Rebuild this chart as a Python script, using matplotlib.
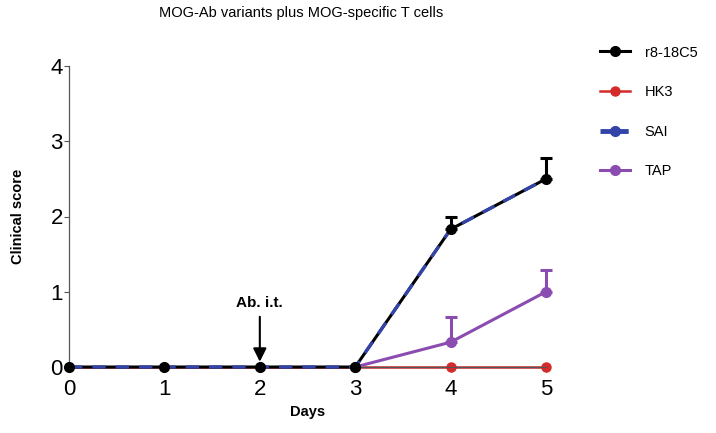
import numpy as np
import matplotlib
matplotlib.use("Agg")
import matplotlib.pyplot as plt
from matplotlib.lines import Line2D

plt.rcParams["font.family"] = ["Liberation Sans", "DejaVu Sans"]

days = [0, 1, 2, 3, 4, 5]
r8_mean = [0, 0, 0, 0, 1.83, 2.5]
r8_err = [0, 0, 0, 0, 0.17, 0.28]
hk3_mean = [0, 0, 0, 0, 0, 0]
sai_mean = [0, 0, 0, 0, 1.83, 2.5]
tap_mean = [0, 0, 0, 0, 0.33, 1.0]
tap_err = [0, 0, 0, 0, 0.33, 0.29]
series_names = ["r8-18C5", "HK3", "SAI", "TAP"]
yticks = [0, 1, 2, 3, 4]

BLACK, RED, BLUE, PURPLE = "#000000", "#d42a2a", "#3344a8", "#8a4cb0"

fig = plt.figure(figsize=(7.16, 4.33), dpi=100)
ax = fig.add_axes([0.0964, 0.1524, 0.6662, 0.6952])


def up_errorbar(x, y, err, color, z):
    # GraphPad style: only the upper half of the SEM bar
    eb = ax.errorbar(x, y, yerr=[[0] * len(err), err], fmt="none", ecolor=color,
                     elinewidth=2.2, capsize=4, capthick=2.2, zorder=z)
    for art in eb.get_children():
        art.set_clip_on(False)


ax.plot(days[3:], hk3_mean[3:], color=RED, lw=1.8, marker="o", ms=6.5, clip_on=False, zorder=2)
ax.plot(days[:4], hk3_mean[:4], color=RED, lw=1.8, zorder=1, clip_on=False)

up_errorbar(days[4:], tap_mean[4:], tap_err[4:], PURPLE, 2)
ax.plot(days[3:], tap_mean[3:], color=PURPLE, lw=2.2, marker="o", ms=7, clip_on=False, zorder=3)

up_errorbar(days[4:], r8_mean[4:], r8_err[4:], BLACK, 4)
ax.plot(days, r8_mean, color=BLACK, lw=2.2, clip_on=False, zorder=4)
ax.plot(days, sai_mean, color=BLUE, lw=2.4, ls=(0, (4, 3)), clip_on=False, zorder=5)
ax.plot(days, r8_mean, ls="none", color=BLACK, marker="o", ms=7, clip_on=False, zorder=6)

ax.annotate("Ab. i.t.", xy=(2, 0.07), xytext=(2, 0.76), ha="center", va="bottom",
            fontsize=11, fontweight="bold",
            arrowprops=dict(arrowstyle="-|>", color="black", lw=1.5, mutation_scale=20,
                            shrinkA=3, shrinkB=0))

ax.set_xlim(0, 5)
ax.set_ylim(0, 4)
ax.set_xticks(days)
ax.set_yticks(yticks)
ax.tick_params(labelsize=16, length=3.5, width=0.8, color="#555555")
ax.tick_params(axis="y", pad=1)
ax.tick_params(axis="x", pad=5)
for s in ["top", "right"]:
    ax.spines[s].set_visible(False)
for s in ["left", "bottom"]:
    ax.spines[s].set_color("#555555")
    ax.spines[s].set_linewidth(0.9)
ax.set_xlabel("Days", fontsize=10.5, fontweight="bold", labelpad=4)
ax.set_ylabel("Clinical score", fontsize=10.5, fontweight="bold", labelpad=18)

fig.text(0.42, 0.97, "MOG-Ab variants plus MOG-specific T cells", ha="center", va="center", fontsize=10.5)

handles = [
    Line2D([], [], color=BLACK, lw=2.2, marker="o", ms=7),
    Line2D([], [], color=RED, lw=1.8, marker="o", ms=6.5),
    Line2D([], [], color=BLUE, lw=3.5, ls=(0, (2.2, 1.4)), marker="o", ms=7),
    Line2D([], [], color=PURPLE, lw=2.2, marker="o", ms=7),
]
fig.legend(handles, series_names, loc="upper left", bbox_to_anchor=(0.819, 0.925),
           frameon=False, fontsize=10.5, handlelength=2.1, labelspacing=1.75, handletextpad=1.0)

fig.savefig("out.png", dpi=100)
